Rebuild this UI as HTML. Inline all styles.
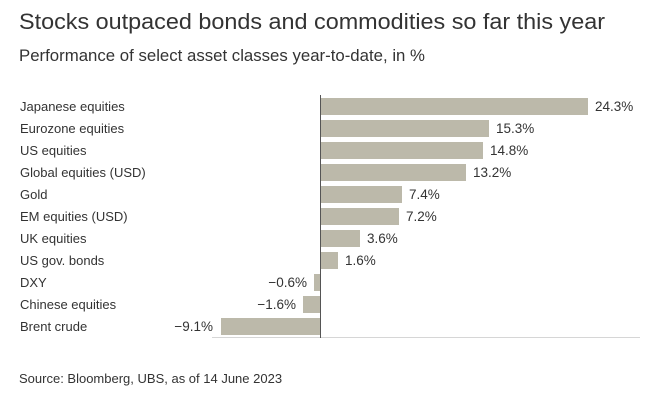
<!DOCTYPE html>
<html><head><meta charset="utf-8"><style>
body{margin:0;background:#fff;}
svg{display:block;font-family:"Liberation Sans",sans-serif;}
</style></head><body>
<svg width="659" height="400" viewBox="0 0 659 400">
<text x="19" y="29" font-size="22" fill="#333" textLength="586" lengthAdjust="spacingAndGlyphs">Stocks outpaced bonds and commodities so far this year</text>
<text x="19" y="61" font-size="16.5" fill="#333" textLength="406" lengthAdjust="spacingAndGlyphs">Performance of select asset classes year-to-date, in %</text>
<g font-size="13" fill="#333">
<line x1="212" y1="337.5" x2="640" y2="337.5" stroke="#d6d6d6" stroke-width="1"/>
<g fill="#bcb9aa">
<rect x="320" y="98" width="268" height="17"/>
<rect x="320" y="120" width="169" height="17"/>
<rect x="320" y="142" width="163" height="17"/>
<rect x="320" y="164" width="146" height="17"/>
<rect x="320" y="186" width="82" height="17"/>
<rect x="320" y="208" width="79" height="17"/>
<rect x="320" y="230" width="40" height="17"/>
<rect x="320" y="252" width="18" height="17"/>
<rect x="314" y="274" width="6" height="17"/>
<rect x="303" y="296" width="17" height="17"/>
<rect x="221" y="318" width="99" height="17"/>
</g>
<line x1="320.5" y1="95" x2="320.5" y2="338" stroke="#555" stroke-width="1"/>
<g>
<text x="20" y="111">Japanese equities</text>
<text x="20" y="133">Eurozone equities</text>
<text x="20" y="155">US equities</text>
<text x="20" y="177">Global equities (USD)</text>
<text x="20" y="199">Gold</text>
<text x="20" y="221">EM equities (USD)</text>
<text x="20" y="243">UK equities</text>
<text x="20" y="265">US gov. bonds</text>
<text x="20" y="287">DXY</text>
<text x="20" y="309">Chinese equities</text>
<text x="20" y="331">Brent crude</text>
</g>
<g font-size="13.5">
<text x="595" y="111">24.3%</text>
<text x="496" y="133">15.3%</text>
<text x="490" y="155">14.8%</text>
<text x="473" y="177">13.2%</text>
<text x="409" y="199">7.4%</text>
<text x="406" y="221">7.2%</text>
<text x="367" y="243">3.6%</text>
<text x="345" y="265">1.6%</text>
</g>
<g text-anchor="end" font-size="13.5">
<text x="307" y="287">−0.6%</text>
<text x="296" y="309">−1.6%</text>
<text x="213" y="331">−9.1%</text>
</g>
</g>
<text x="19" y="383" font-size="13" fill="#333">Source: Bloomberg, UBS, as of 14 June 2023</text>
</svg>
</body></html>
